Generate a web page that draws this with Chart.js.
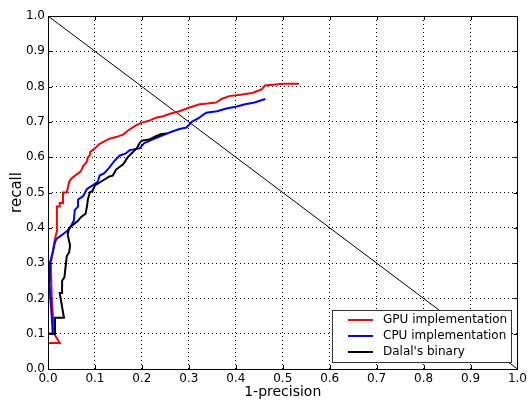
<!DOCTYPE html>
<html>
<head>
<meta charset="utf-8">
<script src="https://cdn.jsdelivr.net/npm/chart.js@4/dist/chart.umd.min.js"></script>
<style>
  html, body { margin: 0; padding: 0; background: #fff; }
  #wrap { width: 530px; height: 401px; }
</style>
</head>
<body>
<div id="wrap"><canvas id="prChart" width="530" height="401"></canvas></div>
<script>
const seriesNames = ['GPU implementation', 'CPU implementation', "Dalal's binary"];
const seriesColors = ['#ff0000', '#0000ff', '#000000'];

const gpuX = [0, 0.025, 0.013, 0.008, 0.006, 0.01, 0.015, 0.019, 0.019, 0.025, 0.025, 0.032, 0.032, 0.04, 0.045, 0.05, 0.06, 0.07, 0.075, 0.082, 0.085, 0.089, 0.09, 0.1, 0.11, 0.12, 0.13, 0.145, 0.16, 0.17, 0.18, 0.19, 0.2, 0.215, 0.23, 0.245, 0.26, 0.28, 0.3, 0.323, 0.34, 0.358, 0.37, 0.386, 0.41, 0.435, 0.455, 0.462, 0.48, 0.5, 0.535];
const gpuY = [0.074, 0.074, 0.1, 0.2, 0.3, 0.33, 0.37, 0.39, 0.46, 0.46, 0.47, 0.47, 0.5, 0.5, 0.53, 0.54, 0.55, 0.56, 0.575, 0.585, 0.6, 0.605, 0.615, 0.625, 0.638, 0.645, 0.652, 0.657, 0.664, 0.675, 0.684, 0.692, 0.698, 0.703, 0.712, 0.716, 0.723, 0.73, 0.74, 0.75, 0.752, 0.755, 0.765, 0.773, 0.777, 0.782, 0.792, 0.803, 0.805, 0.808, 0.808];

const cpuX = [0, 0.01, 0.008, 0.005, 0.003, 0.004, 0.01, 0.015, 0.019, 0.03, 0.04, 0.047, 0.055, 0.057, 0.064, 0.064, 0.075, 0.083, 0.095, 0.106, 0.11, 0.12, 0.13, 0.142, 0.153, 0.165, 0.174, 0.195, 0.205, 0.217, 0.24, 0.259, 0.28, 0.295, 0.306, 0.32, 0.337, 0.36, 0.38, 0.4, 0.42, 0.44, 0.463];
const cpuY = [0.1, 0.1, 0.15, 0.2, 0.25, 0.3, 0.33, 0.36, 0.37, 0.38, 0.39, 0.4, 0.42, 0.45, 0.46, 0.48, 0.49, 0.51, 0.52, 0.53, 0.548, 0.555, 0.57, 0.59, 0.605, 0.61, 0.62, 0.625, 0.64, 0.647, 0.66, 0.67, 0.68, 0.684, 0.7, 0.71, 0.726, 0.73, 0.738, 0.743, 0.75, 0.755, 0.765];

const dalalX = [0, 0.015, 0.015, 0.034, 0.025, 0.03, 0.03, 0.035, 0.04, 0.045, 0.047, 0.042, 0.045, 0.055, 0.064, 0.07, 0.08, 0.083, 0.085, 0.089, 0.095, 0.1, 0.117, 0.13, 0.138, 0.145, 0.16, 0.17, 0.19, 0.195, 0.2, 0.215, 0.231, 0.24, 0.252];
const dalalY = [0.1, 0.1, 0.145, 0.145, 0.215, 0.215, 0.25, 0.26, 0.32, 0.33, 0.35, 0.38, 0.4, 0.41, 0.42, 0.43, 0.44, 0.46, 0.48, 0.5, 0.505, 0.52, 0.534, 0.545, 0.548, 0.565, 0.58, 0.6, 0.627, 0.64, 0.647, 0.65, 0.66, 0.665, 0.667];

const diagX = [0, 1];
const diagY = [1, 0];

const axisTicks = [0, 0.1, 0.2, 0.3, 0.4, 0.5, 0.6, 0.7, 0.8, 0.9, 1.0];

const toPoints = (xs, ys) => xs.map((x, i) => ({ x, y: ys[i] }));

const FONT = 'DejaVu Sans';

// frame, inward tick marks and the legend box, matplotlib style
const framePlugin = {
  id: 'frame',
  afterDatasetsDraw(chart) {
    const { ctx, chartArea: a, scales } = chart;
    ctx.save();
    ctx.strokeStyle = '#000';
    ctx.lineWidth = 1;
    ctx.beginPath();
    axisTicks.forEach(v => {
      const px = Math.round(scales.x.getPixelForValue(v)) + 0.5;
      ctx.moveTo(px, a.bottom); ctx.lineTo(px, a.bottom - 4);
      ctx.moveTo(px, a.top); ctx.lineTo(px, a.top + 4);
      const py = Math.round(scales.y.getPixelForValue(v)) + 0.5;
      ctx.moveTo(a.left, py); ctx.lineTo(a.left + 4, py);
      ctx.moveTo(a.right, py); ctx.lineTo(a.right - 4, py);
    });
    ctx.stroke();
    ctx.strokeRect(Math.round(a.left) + 0.5, Math.round(a.top) + 0.5,
                   Math.round(a.right - a.left), Math.round(a.bottom - a.top));

    // legend
    const lx = 332, ly = 310, lw = 179, lh = 52;
    ctx.fillStyle = '#fff';
    ctx.fillRect(lx, ly, lw, lh);
    ctx.strokeStyle = '#333';
    ctx.strokeRect(lx + 0.5, ly + 0.5, lw, lh);
    ctx.font = '12px "' + FONT + '"';
    ctx.textBaseline = 'middle';
    seriesNames.forEach((name, i) => {
      const y = ly + 10 + i * 16;
      ctx.strokeStyle = seriesColors[i];
      ctx.lineWidth = 2;
      ctx.beginPath();
      ctx.moveTo(348, y); ctx.lineTo(373, y);
      ctx.stroke();
      ctx.fillStyle = '#000';
      ctx.fillText(name, 383, y);
    });
    ctx.restore();
  }
};

const lineDs = (label, data, color, width, order) => ({
  label, data, borderColor: color, backgroundColor: color,
  borderWidth: width, showLine: true, pointRadius: 0, tension: 0, order,
});

new Chart(document.getElementById('prChart'), {
  type: 'scatter',
  data: {
    datasets: [
      lineDs('diag', toPoints(diagX, diagY), '#000', 1, 4),
      lineDs(seriesNames[0], toPoints(gpuX, gpuY), seriesColors[0], 2, 3),
      lineDs(seriesNames[1], toPoints(cpuX, cpuY), seriesColors[1], 2, 2),
      lineDs(seriesNames[2], toPoints(dalalX, dalalY), seriesColors[2], 2, 1),
    ]
  },
  options: {
    responsive: false,
    animation: false,
    layout: { padding: { top: 16, right: 11, left: 0, bottom: 0 } },
    plugins: { legend: { display: false }, tooltip: { enabled: false } },
    scales: {
      x: {
        type: 'linear', min: 0, max: 1,
        afterBuildTicks: s => { s.ticks = axisTicks.map(v => ({ value: v })); },
        afterFit: s => { s.height = 32; },
        grid: { color: '#000', lineWidth: 1, drawTicks: false },
        border: { display: false, dash: [1, 3] },
        ticks: { color: '#000', padding: 3, font: { family: FONT, size: 12 },
                 callback: v => v.toFixed(1), maxRotation: 0 },
        title: { display: true, text: '1-precision', color: '#000',
                 font: { family: FONT, size: 14 }, padding: { top: -2, bottom: 0 } }
      },
      y: {
        type: 'linear', min: 0, max: 1,
        afterBuildTicks: s => { s.ticks = axisTicks.map(v => ({ value: v })); },
        afterFit: s => { s.width = 48; },
        grid: { color: '#000', lineWidth: 1, drawTicks: false },
        border: { display: false, dash: [1, 3] },
        ticks: { color: '#000', padding: 3, font: { family: FONT, size: 12 },
                 callback: v => v.toFixed(1) },
        title: { display: true, text: 'recall', color: '#000',
                 font: { family: FONT, size: 15 }, padding: { top: 8, bottom: 0 } }
      }
    }
  },
  plugins: [framePlugin]
});
</script>
</body>
</html>
